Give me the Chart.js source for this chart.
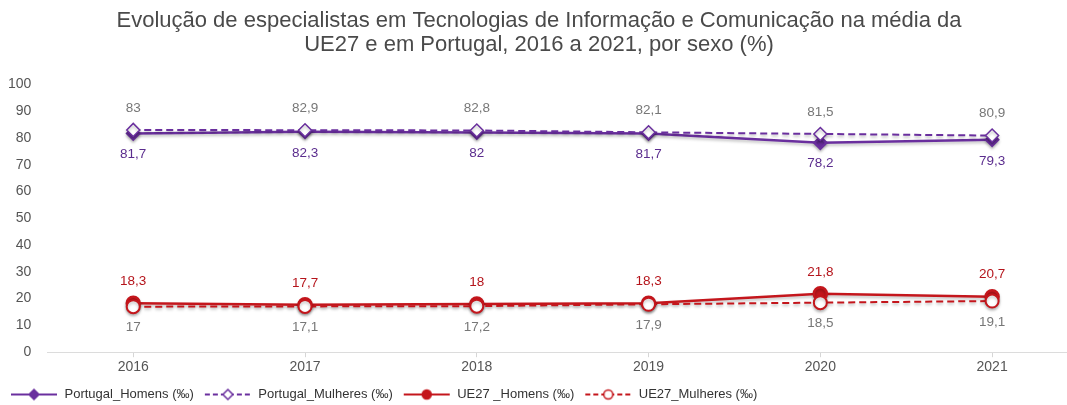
<!DOCTYPE html>
<html>
<head>
<meta charset="utf-8">
<script src="https://cdn.jsdelivr.net/npm/chart.js@4.4.0/dist/chart.umd.min.js"></script>
<style>
  html, body { margin: 0; padding: 0; background: #fff; overflow: hidden; }
  #wrap { width: 1092px; height: 405px; }
</style>
</head>
<body>
<div id="wrap"><canvas id="myChart" width="1092" height="405"></canvas></div>
<script>
const anos = ["2016", "2017", "2018", "2019", "2020", "2021"];
const ptHomens = [81.7, 82.3, 82, 81.7, 78.2, 79.3];
const ptMulheres = [83, 82.9, 82.8, 82.1, 81.5, 80.9];
const ueHomens = [18.3, 17.7, 18, 18.3, 21.8, 20.7];
const ueMulheres = [17, 17.1, 17.2, 17.9, 18.5, 19.1];
const yTicks = [0, 10, 20, 30, 40, 50, 60, 70, 80, 90, 100];

const roxo = "#6a2f9e";
const vermelho = "#c4161c";
const fonte = "'Liberation Sans', Arial, sans-serif";

// icone da legenda: linha + marcador
const iconeLegenda = (cor, tracejado, estilo, cheio) => {
  const c = document.createElement("canvas");
  c.width = 48;
  c.height = 14;
  const ctx = c.getContext("2d");
  ctx.strokeStyle = cor;
  ctx.lineWidth = 2;
  if (tracejado) ctx.setLineDash([5, 3]);
  ctx.beginPath();
  ctx.moveTo(1, 7);
  ctx.lineTo(47, 7);
  ctx.stroke();
  ctx.setLineDash([]);
  ctx.fillStyle = cheio ? cor : "#fff";
  ctx.beginPath();
  if (estilo === "rectRot") {
    ctx.moveTo(24, 2);
    ctx.lineTo(29, 7);
    ctx.lineTo(24, 12);
    ctx.lineTo(19, 7);
    ctx.closePath();
  } else {
    ctx.arc(24, 7, 4.5, 0, Math.PI * 2);
  }
  ctx.fill();
  ctx.lineWidth = 1.5;
  ctx.stroke();
  return c;
};

const datasets = [
  {
    label: "Portugal_Homens (‰)",
    data: ptHomens,
    borderColor: roxo,
    backgroundColor: roxo,
    borderWidth: 2.5,
    pointStyle: "rectRot",
    pointRadius: 6,
    pointBackgroundColor: roxo,
    pointBorderColor: roxo,
    order: 2,
    etiqueta: { pos: "baixo", cor: "#5b2d8e" },
    icone: iconeLegenda(roxo, false, "rectRot", true),
  },
  {
    label: "Portugal_Mulheres (‰)",
    data: ptMulheres,
    borderColor: roxo,
    backgroundColor: "#fff",
    borderWidth: 2,
    borderDash: [7, 4],
    pointStyle: "rectRot",
    pointRadius: 6.5,
    pointBorderWidth: 1.5,
    pointBackgroundColor: "#fff",
    pointBorderColor: roxo,
    order: 1,
    etiqueta: { pos: "cima", cor: "#777" },
    icone: iconeLegenda(roxo, true, "rectRot", false),
  },
  {
    label: "UE27 _Homens (‰)",
    data: ueHomens,
    borderColor: vermelho,
    backgroundColor: vermelho,
    borderWidth: 2.5,
    pointStyle: "circle",
    pointRadius: 6.5,
    pointBackgroundColor: vermelho,
    pointBorderColor: vermelho,
    order: 4,
    etiqueta: { pos: "cima", cor: "#b5141b" },
    icone: iconeLegenda(vermelho, false, "circle", true),
  },
  {
    label: "UE27_Mulheres (‰)",
    data: ueMulheres,
    borderColor: vermelho,
    backgroundColor: "#fff",
    borderWidth: 2,
    borderDash: [7, 4],
    pointStyle: "circle",
    pointRadius: 6.5,
    pointBorderWidth: 2,
    pointBackgroundColor: "#fff",
    pointBorderColor: vermelho,
    order: 3,
    etiqueta: { pos: "baixo", cor: "#777" },
    icone: iconeLegenda(vermelho, true, "circle", false),
  },
];

// sombra suave nas linhas
const sombra = {
  id: "sombra",
  beforeDatasetDraw(chart) {
    const ctx = chart.ctx;
    ctx.save();
    ctx.shadowColor = "rgba(0,0,0,0.25)";
    ctx.shadowBlur = 3;
    ctx.shadowOffsetY = 2;
  },
  afterDatasetDraw(chart) {
    chart.ctx.restore();
  },
};

// valores escritos junto aos pontos
const etiquetas = {
  id: "etiquetas",
  afterDatasetsDraw(chart) {
    const ctx = chart.ctx;
    ctx.save();
    ctx.font = "13.5px " + fonte;
    ctx.textAlign = "center";
    ctx.textBaseline = "middle";
    chart.data.datasets.forEach((ds, i) => {
      const meta = chart.getDatasetMeta(i);
      meta.data.forEach((pt, j) => {
        const txt = String(ds.data[j]).replace(".", ",");
        const dy = ds.etiqueta.pos === "cima" ? -22 : 21;
        ctx.fillStyle = ds.etiqueta.cor;
        ctx.fillText(txt, pt.x, pt.y + dy);
      });
    });
    ctx.restore();
  },
};

const ctx = document.getElementById("myChart").getContext("2d");
window.grafica = new Chart(ctx, {
  type: "line",
  data: { labels: anos, datasets: datasets },
  plugins: [sombra, etiquetas],
  options: {
    responsive: false,
    animation: false,
    layout: { padding: { left: 0, right: 14, top: 9, bottom: -6 } },
    plugins: {
      title: {
        display: true,
        text: [
          "Evolução de especialistas em Tecnologias de Informação e Comunicação na média da",
          "UE27 e em Portugal, 2016 a 2021, por sexo (%)",
        ],
        color: "#4a4a4a",
        font: { family: fonte, size: 22, weight: "normal", lineHeight: 1.1 },
        padding: { top: 0, bottom: 27 },
      },
      legend: {
        position: "bottom",
        align: "start",
        labels: {
          usePointStyle: true,
          pointStyleWidth: 48,
          boxHeight: 12,
          color: "#333",
          padding: 10,
          font: { family: fonte, size: 13 },
          generateLabels: (chart) =>
            chart.data.datasets.map((ds, i) => ({
              text: ds.label,
              pointStyle: ds.icone,
              fillStyle: ds.borderColor,
              strokeStyle: ds.borderColor,
              lineWidth: 0,
              hidden: false,
              datasetIndex: i,
              fontColor: "#333",
            })),
        },
      },
      tooltip: { enabled: false },
    },
    scales: {
      x: {
        offset: true,
        grid: {
          display: true,
          offset: false,
          drawOnChartArea: false,
          drawTicks: true,
          tickLength: 5,
          color: "#d6d6d6",
        },
        border: { display: true, color: "#dcdcdc", width: 1 },
        ticks: { color: "#555", font: { family: fonte, size: 14 }, padding: 2 },
      },
      y: {
        min: 0,
        max: 100,
        afterBuildTicks: (axis) => {
          axis.ticks = yTicks.map((v) => ({ value: v }));
        },
        grid: { display: false },
        border: { display: false },
        ticks: { color: "#555", font: { family: fonte, size: 14 }, padding: 8 },
      },
    },
  },
});
</script>
</body>
</html>
